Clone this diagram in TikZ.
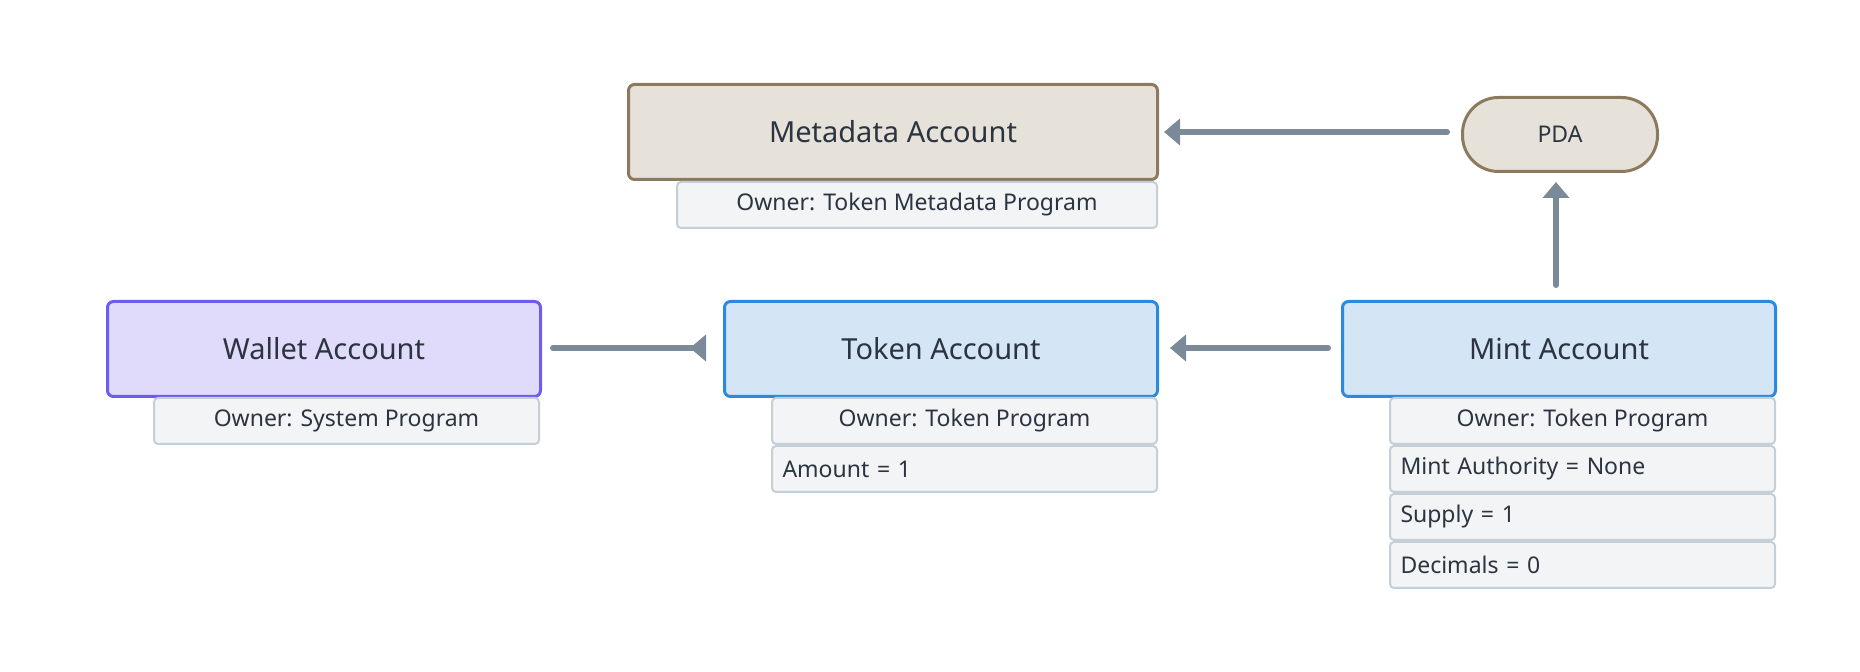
\documentclass[tikz,border=0pt]{standalone}
\usepackage{fontspec}
\setmainfont{Noto Sans}
\usetikzlibrary{arrows.meta}
\definecolor{txt}{HTML}{2B3440}
\definecolor{wire}{HTML}{7A8A99}
\definecolor{bluefill}{HTML}{D4E5F5}
\definecolor{blueline}{HTML}{2B8AE0}
\definecolor{purplefill}{HTML}{E0DBFB}
\definecolor{purpleline}{HTML}{6E5CF2}
\definecolor{brownfill}{HTML}{E6E2DA}
\definecolor{brownline}{HTML}{8C7A5E}
\definecolor{subfill}{HTML}{F2F4F6}
\definecolor{subline}{HTML}{C5CFD8}
\tikzset{
  account/.style={rectangle, rounded corners=3pt, line width=1.5pt, anchor=north west,
    minimum width=216.5pt, minimum height=47.5pt, text=txt, font=\fontsize{14.5}{18}\selectfont},
  acct/.style={account, fill=bluefill, draw=blueline},
  wallet/.style={account, fill=purplefill, draw=purpleline},
  meta/.style={account, fill=brownfill, draw=brownline, minimum width=264.5pt},
  field/.style={rectangle, rounded corners=2pt, line width=1pt, fill=subfill, draw=subline,
    anchor=north west, minimum width=192.5pt, minimum height=23pt, text=txt,
    font=\fontsize{11.5}{14}\selectfont},
  lfield/.style={field, text width=182pt, align=left},
  link/.style={draw=wire, line width=3pt, line cap=round, -{Triangle[length=8pt,width=13pt]}},
  rlink/.style={draw=wire, line width=3pt, line cap=round, -{Triangle[reversed,length=8pt,width=13pt]}}
}
\begin{document}
\begin{tikzpicture}[x=0.5pt, y=-0.5pt]
\useasboundingbox (0,0) rectangle (1860,672);
% accounts
\node[meta]   (meta)   at (627,83)   {Metadata Account};
\node[field, minimum width=240pt] (metaown) at (676,181) {Owner: Token Metadata Program};
\node[draw=brownline, fill=brownfill, line width=1.5pt, rounded corners=18pt,
      minimum width=97.5pt, minimum height=37pt, anchor=north west, text=txt,
      font=\fontsize{11.5}{14}\selectfont] (pda) at (1461,96) {PDA};
\node[wallet] (wallet) at (106,300) {Wallet Account};
\node[field]  (walown) at (153,397)  {Owner: System Program};
\node[acct]   (token)  at (723,300)  {Token Account};
\node[field]  (tokown) at (771,397)  {Owner: Token Program};
\node[lfield] (tokamt) at (771,445)  {Amount = 1};
\node[acct]   (mint)   at (1341,300) {Mint Account};
\node[field]  (mintown) at (1389,397) {Owner: Token Program};
\foreach \y/\t [count=\i] in {445/Mint Authority = None, 493/Supply = 1, 541/Decimals = 0}
  \node[lfield] (mintf\i) at (1389,\y) {\t};
% links
\coordinate (wtA) at (553,348);
\coordinate (wtB) at (706,348);
\coordinate (mtA) at (1328,348);
\coordinate (mtB) at (1170,348);
\coordinate (pmA) at (1447,132);
\coordinate (pmB) at (1164,132);
\coordinate (mpA) at (1556,285);
\coordinate (mpB) at (1556,182);
\draw[rlink] (wtA) -- (wtB);
\draw[link] (mtA) -- (mtB);
\draw[link] (pmA) -- (pmB);
\draw[link] (mpA) -- (mpB);
\end{tikzpicture}
\end{document}
